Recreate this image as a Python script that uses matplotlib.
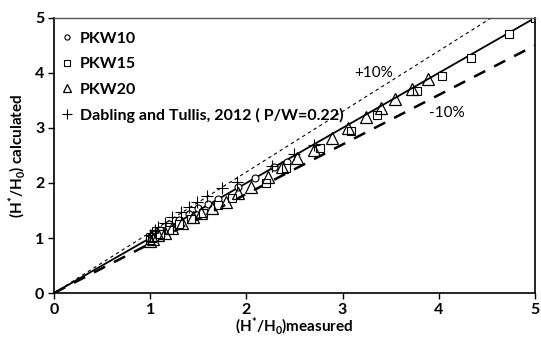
import matplotlib
matplotlib.use("Agg")
import matplotlib.pyplot as plt
import numpy as np

plt.rcParams['font.family'] = ['Lato', 'DejaVu Sans']
plt.rcParams['font.weight'] = 'bold'
plt.rcParams['mathtext.fontset'] = 'custom'
plt.rcParams['mathtext.rm'] = 'Lato:weight=bold'
plt.rcParams['mathtext.it'] = 'Lato:weight=bold'
plt.rcParams['mathtext.bf'] = 'Lato:weight=bold'
plt.rcParams['mathtext.default'] = 'bf'

# measured / calculated values
pkw10_x = [1.00, 1.02, 1.03, 1.05, 1.10, 1.20, 1.30, 1.40, 1.50, 1.60, 1.70, 1.91, 2.09, 2.29, 2.42]
pkw10_y = [1.00, 1.03, 1.05, 1.08, 1.15, 1.25, 1.33, 1.43, 1.55, 1.62, 1.71, 1.93, 2.09, 2.29, 2.38]

pkw15_x = [1.00, 1.02, 1.04, 1.10, 1.20, 1.30, 1.42, 1.55, 1.70, 1.85, 2.20, 2.41, 2.77, 3.09,
           3.36, 3.77, 4.03, 4.34, 4.73, 5.00]
pkw15_y = [0.97, 1.00, 1.02, 1.07, 1.15, 1.25, 1.35, 1.45, 1.60, 1.73, 2.00, 2.27, 2.63, 2.95,
           3.24, 3.67, 3.95, 4.27, 4.71, 5.00]

pkw20_x = [1.00, 1.03, 1.08, 1.15, 1.23, 1.33, 1.44, 1.53, 1.64, 1.79, 1.91, 2.05, 2.22, 2.37,
           2.53, 2.70, 2.89, 3.06, 3.24, 3.40, 3.54, 3.72, 3.89]
pkw20_y = [0.95, 0.98, 1.05, 1.10, 1.18, 1.27, 1.38, 1.45, 1.55, 1.65, 1.82, 1.93, 2.11, 2.29,
           2.45, 2.60, 2.82, 3.00, 3.20, 3.36, 3.53, 3.71, 3.89]

dab_x = [1.00, 1.02, 1.05, 1.08, 1.15, 1.23, 1.32, 1.40, 1.49, 1.59, 1.75, 1.90, 2.27, 2.49, 2.70]
dab_y = [1.05, 1.10, 1.15, 1.20, 1.27, 1.38, 1.47, 1.56, 1.65, 1.76, 1.91, 2.02, 2.31, 2.53, 2.69]

fig = plt.figure(figsize=(5.41, 3.38), dpi=100)
ax = fig.add_axes([0.0998, 0.133, 0.889, 0.814])

line_x = np.array([0, 5])
ax.plot(line_x, line_x, color='black', lw=1.3, zorder=1)
ax.plot(line_x, 1.1 * line_x, color='black', lw=0.8, ls=(0, (3, 3)), zorder=1)
ax.plot(line_x, 0.9 * line_x, color='black', lw=1.8, ls=(0, (5, 4)), zorder=1)

ax.plot(pkw10_x, pkw10_y, 'o', mfc='white', mec='black', ms=5, mew=0.8, label='PKW10')
ax.plot(pkw15_x, pkw15_y, 's', mfc='white', mec='black', ms=6, mew=0.8, label='PKW15')
ax.plot(pkw20_x, pkw20_y, '^', mfc='none', mec='black', ms=8, mew=0.9, label='PKW20')
ax.plot(dab_x, dab_y, '+', color='black', ms=9, mew=0.8,
        label='Dabling and Tullis, 2012 ( P/W=0.22)')

ax.text(3.12, 4.0, '+10%', fontsize=11, fontweight='normal', va='center')
ax.text(3.9, 3.27, '-10%', fontsize=11, fontweight='normal', va='center')

ax.set_xlim(0, 5)
ax.set_ylim(0, 5)
ax.set_xticks([0, 1, 2, 3, 4, 5])
ax.set_yticks([0, 1, 2, 3, 4, 5])
ax.tick_params(direction='out', length=4, width=1, labelsize=11.5, pad=3)
for s in ['left', 'bottom', 'right']:
    ax.spines[s].set_linewidth(1.2)
ax.spines['top'].set_linewidth(1.0)
ax.spines['top'].set_color('#555555')

ax.set_xlabel(r'(H$^{*}$/H$_{0}$)measured', fontsize=11, fontweight='bold', labelpad=-1)
ax.set_ylabel(r'(H$^{*}$/H$_{0}$) calculated', fontsize=11, fontweight='bold', labelpad=5)

leg = ax.legend(loc='upper left', bbox_to_anchor=(-0.01, 0.985), frameon=False,
                fontsize=11.5, labelspacing=0.7, handlelength=1.0, handletextpad=0.3,
                borderaxespad=0.2, markerscale=0.75)

fig.savefig('out.png', dpi=100)
